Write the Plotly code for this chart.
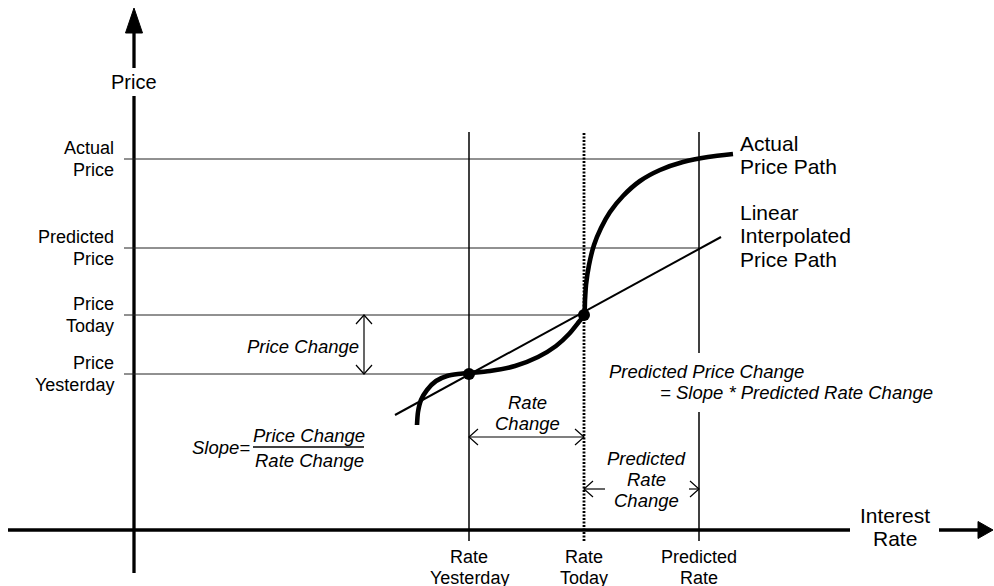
import plotly.graph_objects as go

# ---------------- data (conceptual units: rate on x, price on y) ----------------
rate_names = ["Rate<br>Yesterday", "Rate<br>Today", "Predicted<br>Rate"]
rate_values = [3.35, 4.50, 5.65]

price_names = ["Actual<br>Price", "Predicted<br>Price", "Price<br>Today", "Price<br>Yesterday"]
price_values = [3.71, 2.82, 2.15, 1.56]

actual_path_rate = [2.83, 2.84, 2.87, 2.93, 3.02, 3.13, 3.24, 3.35, 3.56, 3.81, 4.04, 4.22,
                    4.35, 4.44, 4.50, 4.51, 4.52, 4.55, 4.60, 4.67, 4.76, 4.89, 5.06, 5.26,
                    5.49, 5.74, 5.99]
actual_path_price = [1.05, 1.18, 1.30, 1.40, 1.49, 1.54, 1.56, 1.57, 1.59, 1.64, 1.73, 1.84,
                     1.96, 2.07, 2.15, 2.30, 2.45, 2.65, 2.85, 3.02, 3.18, 3.34, 3.49, 3.60,
                     3.68, 3.73, 3.76]

linear_path_rate = [2.61, 5.87]
linear_path_price = [1.15, 2.93]

FONT = "Liberation Sans, Arial, Helvetica, sans-serif"
X_RANGE = [-1.34, 8.60]
Y_RANGE = [-0.56, 5.30]

r_yest, r_today, r_pred = rate_values
p_act, p_pred, p_today, p_yest = price_values

fig = go.Figure()

fig.add_trace(go.Scatter(x=actual_path_rate, y=actual_path_price, mode="lines",
                         line=dict(color="black", width=4.6, shape="spline", smoothing=0.7),
                         hoverinfo="skip"))
fig.add_trace(go.Scatter(x=linear_path_rate, y=linear_path_price, mode="lines",
                         line=dict(color="black", width=2), hoverinfo="skip"))
fig.add_trace(go.Scatter(x=[r_yest, r_today], y=[p_yest, p_today], mode="markers",
                         marker=dict(color="black", size=12), hoverinfo="skip"))

shapes = []


def seg(x0, y0, x1, y1, w=1.0, color="#222", dash="solid"):
    shapes.append(dict(type="line", xref="x", yref="y", x0=x0, y0=y0, x1=x1, y1=y1,
                       line=dict(color=color, width=w, dash=dash), layer="below"))


def path(d, w=1.2, fill=None):
    s = dict(type="path", xref="x", yref="y", path=d, line=dict(color="black", width=w))
    if fill:
        s["fillcolor"] = fill
    shapes.append(s)


# axes
seg(-1.26, 0, 7.16, 0, w=3.3, color="black")
seg(8.05, 0, 8.44, 0, w=3.3, color="black")
path("M 8.59,0 L 8.44,0.085 L 8.44,-0.085 Z", w=1, fill="black")
seg(0, -0.43, 0, 4.34, w=3.3, color="black")
seg(0, 4.62, 0, 4.97, w=3.3, color="black")
path("M 0,5.22 L -0.085,4.97 L 0.085,4.97 Z", w=1, fill="black")

# horizontal price levels
seg(-0.10, p_act, r_pred, p_act)
seg(-0.10, p_pred, r_pred, p_pred)
seg(-0.10, p_today, r_today, p_today)
seg(-0.10, p_yest, r_yest, p_yest)

# vertical rate levels
top, bot = 3.98, -0.11
seg(r_yest, bot, r_yest, top, w=1.5, color="black")
seg(r_today, bot, r_today, top, w=2.8, color="black", dash="2px,1.5px")
seg(r_pred, bot, r_pred, 1.18, w=1.5, color="black")
seg(r_pred, 1.77, r_pred, top, w=1.5, color="black")

# price change arrow
ax = 2.30
seg(ax, p_yest, ax, p_today, w=1.2, color="black")
path(f"M {ax-0.08},{p_today-0.09} L {ax},{p_today} L {ax+0.08},{p_today-0.09}")
path(f"M {ax-0.08},{p_yest+0.09} L {ax},{p_yest} L {ax+0.08},{p_yest+0.09}")

# rate change arrow
ry = 0.93
seg(r_yest, ry, r_today, ry, w=1.2, color="black")
path(f"M {r_yest+0.09},{ry+0.08} L {r_yest},{ry} L {r_yest+0.09},{ry-0.08}")
path(f"M {r_today-0.09},{ry+0.08} L {r_today},{ry} L {r_today-0.09},{ry-0.08}")

# predicted rate change arrow (split around the label)
py = 0.41
seg(r_today, py, 4.71, py, w=1.2, color="black")
seg(5.55, py, r_pred, py, w=1.2, color="black")
path(f"M {r_today+0.09},{py+0.08} L {r_today},{py} L {r_today+0.09},{py-0.08}")
path(f"M {r_pred-0.09},{py+0.08} L {r_pred},{py} L {r_pred-0.09},{py-0.08}")

# slope fraction bar
seg(1.19, 0.83, 2.30, 0.83, w=1.6, color="black")

annotations = []


def text(lines, x, y_first, size, xanchor="center", italic=False, spacing=0.215):
    for i, ln in enumerate(lines):
        t = f"<i>{ln}</i>" if italic else ln
        annotations.append(dict(x=x, y=y_first - i * spacing, xref="x", yref="y", text=t,
                                showarrow=False, xanchor=xanchor, yanchor="middle",
                                font=dict(family=FONT, size=size, color="black")))


# axis titles
text(["Price"], 0, 4.48, 20)
text(["Interest", "Rate"], 7.61, 0.15, 21, spacing=0.23)

# price tick labels
for name, val in zip(price_names, price_values):
    text(name.split("<br>"), -0.18, val + 0.11, 18, xanchor="right", spacing=0.22)

# rate tick labels
for name, val in zip(rate_names, rate_values):
    text(name.split("<br>"), val, -0.27, 18, spacing=0.21)

# path labels
text(["Actual", "Price Path"], 6.04, 3.87, 21, xanchor="left", spacing=0.23)
text(["Linear", "Interpolated", "Price Path"], 6.04, 3.18, 21, xanchor="left", spacing=0.235)

# italic explanations
text(["Price Change"], 1.69, 1.84, 18.5, italic=True)
text(["Slope="], 1.18, 0.83, 18.5, xanchor="right", italic=True)
text(["Price Change"], 1.75, 0.95, 18.5, italic=True)
text(["Rate Change"], 1.75, 0.70, 18.5, italic=True)
text(["Rate", "Change"], 3.93, 1.28, 18.5, italic=True, spacing=0.21)
text(["Predicted", "Rate", "Change"], 5.12, 0.72, 18.5, italic=True, spacing=0.21)
text(["Predicted Price Change"], 4.73, 1.59, 18.5, xanchor="left", italic=True)
text(["= Slope * Predicted Rate Change"], 5.24, 1.38, 18.5, xanchor="left", italic=True)

fig.update_layout(
    width=994, height=586, autosize=False,
    margin=dict(l=0, r=0, t=0, b=0, pad=0),
    paper_bgcolor="white", plot_bgcolor="white",
    showlegend=False,
    xaxis=dict(range=X_RANGE, visible=False, fixedrange=True),
    yaxis=dict(range=Y_RANGE, visible=False, fixedrange=True),
    shapes=shapes, annotations=annotations,
    font=dict(family=FONT, color="black"),
)

fig.write_html("out.html", config={"displayModeBar": False},
               post_script="document.body.style.margin='0';document.body.style.overflow='hidden';")
